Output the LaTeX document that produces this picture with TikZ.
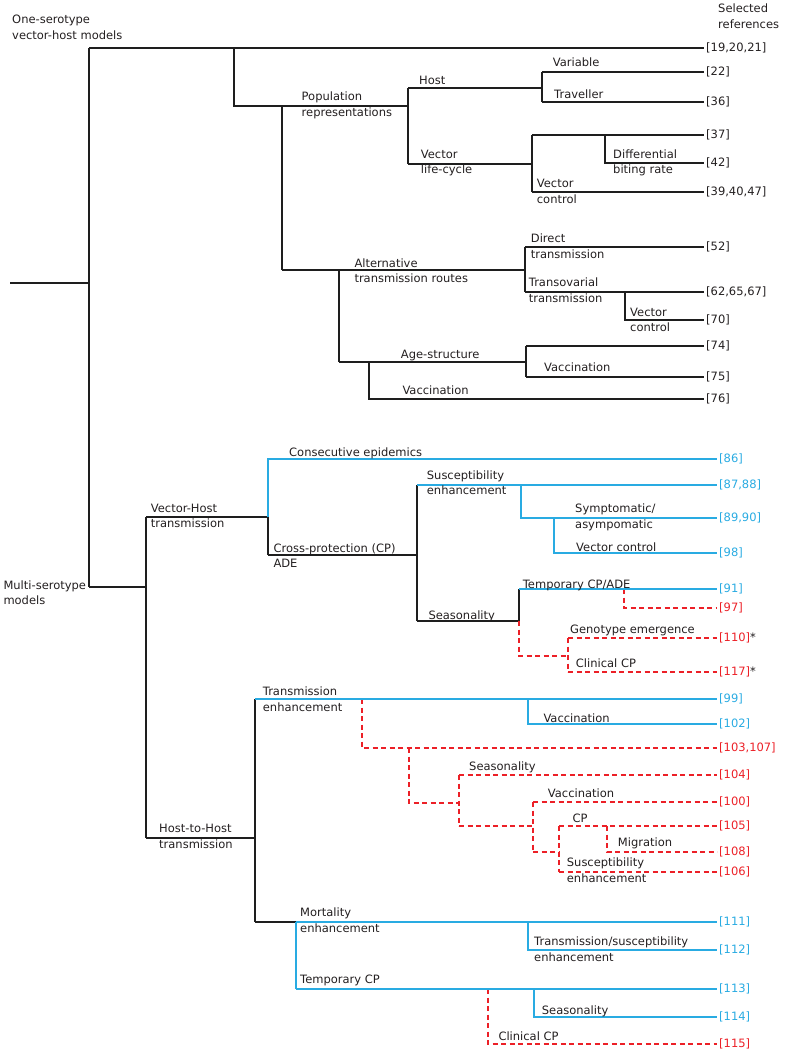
\documentclass[tikz,border=0pt]{standalone}
\usepackage{fontspec}
\setmainfont{DejaVu Sans}
\definecolor{cblue}{RGB}{41,171,226}
\definecolor{cred}{RGB}{236,32,39}
\definecolor{txt}{RGB}{35,31,32}
\definecolor{lblk}{RGB}{30,30,30}
\newcommand{\mytwo}[2]{\begin{tabular}[t]{@{}l@{}}#1\\#2\end{tabular}}
\begin{document}
\begin{tikzpicture}[x=1pt,y=-1pt,
  blk/.style={line width=1.1pt,draw=lblk},
  blu/.style={line width=1.2pt,draw=cblue},
  rd/.style={line width=1.2pt,draw=cred,dash pattern=on 5pt off 3.5pt},
  lbl/.style={anchor=base west,inner sep=0pt,text=txt,font=\fontsize{11.5}{15.5}\selectfont},
  refk/.style={anchor=west,inner sep=2pt,text=txt,font=\fontsize{11.5}{15.5}\selectfont},
  refb/.style={refk,text=cblue},
  refr/.style={refk,text=cred}]
\path[use as bounding box] (0,0) rectangle (786,1054);

% ---------- reference nodes ----------
\node[refk] (r19) at (704,48) {[19,20,21]};
\node[refk] (r22) at (704,72) {[22]};
\node[refk] (r36) at (704,102) {[36]};
\node[refk] (r37) at (704,135) {[37]};
\node[refk] (r42) at (704,163) {[42]};
\node[refk] (r39) at (704,192) {[39,40,47]};
\node[refk] (r52) at (704,247) {[52]};
\node[refk] (r62) at (704,292) {[62,65,67]};
\node[refk] (r70) at (704,320) {[70]};
\node[refk] (r74) at (704,346) {[74]};
\node[refk] (r75) at (704,377) {[75]};
\node[refk] (r76) at (704,399) {[76]};
\node[refb] (r86) at (717,459) {[86]};
\node[refb] (r87) at (717,485) {[87,88]};
\node[refb] (r89) at (717,518) {[89,90]};
\node[refb] (r98) at (717,553) {[98]};
\node[refb] (r91) at (717,589) {[91]};
\node[refr] (r97) at (717,608) {[97]};
\node[refr] (r110) at (717,638) {[110]\textcolor{txt}{*}};
\node[refr] (r117) at (717,672) {[117]\textcolor{txt}{*}};
\node[refb] (r99) at (717,699) {[99]};
\node[refb] (r102) at (717,724) {[102]};
\node[refr] (r103) at (717,748) {[103,107]};
\node[refr] (r104) at (717,775) {[104]};
\node[refr] (r100) at (717,802) {[100]};
\node[refr] (r105) at (717,826) {[105]};
\node[refr] (r108) at (717,852) {[108]};
\node[refr] (r106) at (717,872) {[106]};
\node[refb] (r111) at (717,922) {[111]};
\node[refb] (r112) at (717,950) {[112]};
\node[refb] (r113) at (717,989) {[113]};
\node[refb] (r114) at (717,1017) {[114]};
\node[refr] (r115) at (717,1044) {[115]};

% ---------- one-serotype tree ----------
\coordinate (root) at (10,283);
\coordinate (a0) at (89,48); \coordinate (a1) at (89,587);
\draw[blk] (a0) -- (a1);
\draw[blk] (root) -- (root -| a0);
\draw[blk] (a0) -- (r19.west);
\coordinate (p0) at (234,48); \coordinate (p1) at (234,106);
\coordinate (h0) at (408,88); \coordinate (h1) at (408,164);
\draw[blk] (p0) -- (p1) -- (p1 -| h0);
\draw[blk] (h0) -- (h1);
\coordinate (hv0) at (542,72); \coordinate (hv1) at (542,102);
\draw[blk] (h0) -- (h0 -| hv0);
\draw[blk] (hv0) -- (hv1);
\draw[blk] (hv0) -- (r22.west);
\draw[blk] (hv1) -- (r36.west);
\coordinate (v0) at (532,135); \coordinate (v1) at (532,192);
\draw[blk] (h1) -- (h1 -| v0);
\draw[blk] (v0) -- (v1);
\draw[blk] (v0) -- (r37.west);
\draw[blk] (v1) -- (r39.west);
\coordinate (d0) at (605,135);
\draw[blk] (d0) |- (r42.west);
\coordinate (al0) at (282,106); \coordinate (al1) at (282,270);
\draw[blk] (al0) -- (al1);
\coordinate (t0) at (525,247); \coordinate (t1) at (525,292);
\draw[blk] (al1) -- (al1 -| t0);
\draw[blk] (t0) -- (t1);
\draw[blk] (t0) -- (r52.west);
\draw[blk] (t1) -- (r62.west);
\coordinate (vc) at (625,292);
\draw[blk] (vc) |- (r70.west);
\coordinate (ag0) at (339,270); \coordinate (ag1) at (339,362);
\draw[blk] (ag0) -- (ag1);
\coordinate (g0) at (526,346); \coordinate (g1) at (526,377);
\draw[blk] (ag1) -- (ag1 -| g0);
\draw[blk] (g0) -- (g1);
\draw[blk] (g0) -- (r74.west);
\draw[blk] (g1) -- (r75.west);
\coordinate (vx) at (369,362);
\draw[blk] (vx) |- (r76.west);

% ---------- multi-serotype tree ----------
\coordinate (m0) at (146,517); \coordinate (m1) at (146,838);
\draw[blk] (a1) -- (a1 -| m0);
\draw[blk] (m0) -- (m1);
\coordinate (vh0) at (268,459); \coordinate (vh1) at (268,517); \coordinate (vh2) at (268,555);
\draw[blk] (m0) -- (vh1);
\draw[blu] (vh1) -- (vh0) -- (r86.west);
\draw[blk] (vh1) -- (vh2);
\coordinate (s0) at (417,485); \coordinate (s1) at (417,621);
\draw[blk] (vh2) -- (vh2 -| s0);
\draw[blk] (s0) -- (s1);
\draw[blu] (s0) -- (r87.west);
\coordinate (sy0) at (521,485); \coordinate (sy1) at (554,518);
\draw[blu] (sy0) |- (r89.west);
\draw[blu] (sy1) |- (r98.west);
\coordinate (se0) at (519,589); \coordinate (se1) at (519,621);
\draw[blk] (s1) -- (se1) -- (se0);
\draw[rd] (se1) |- (568,656);
\coordinate (ge0) at (568,638); \coordinate (ge1) at (568,672);
\draw[rd] (ge0) -- (ge1);
\draw[rd] (ge0) -- (r110.west);
\draw[rd] (ge1) -- (r117.west);
\coordinate (tc) at (624,589);
\draw[rd] (tc) |- (r97.west);
\draw[blu] (se0) -- (r91.west);

\coordinate (hh0) at (255,699); \coordinate (hh1) at (255,838); \coordinate (hh2) at (255,922);
\draw[blk] (m1) -- (hh1);
\draw[blk] (hh0) -- (hh2);
\coordinate (te) at (362,699);
\draw[rd] (te) |- (r103.west);
\coordinate (q0) at (409,748); \coordinate (q1) at (459,803);
\draw[rd] (q0) |- (q1);
\coordinate (w0) at (459,775); \coordinate (w1) at (459,826);
\draw[rd] (w0) -- (w1);
\draw[rd] (w0) -- (r104.west);
\coordinate (x0) at (533,802); \coordinate (x1) at (533,852);
\draw[rd] (w1) -- (w1 -| x0);
\draw[rd] (x0) -- (x1);
\draw[rd] (x0) -- (r100.west);
\coordinate (y0) at (559,826); \coordinate (y1) at (559,872);
\draw[rd] (x1) -- (x1 -| y0);
\draw[rd] (y0) -- (y1);
\draw[rd] (y0) -- (r105.west);
\draw[rd] (y1) -- (r106.west);
\coordinate (mg) at (607,826);
\draw[rd] (mg) |- (r108.west);
\draw[blu] (hh0) -- (r99.west);
\coordinate (tv) at (528,699);
\draw[blu] (tv) |- (r102.west);

\coordinate (mo0) at (296,922); \coordinate (mo1) at (296,989);
\draw[blk] (hh2) -- (mo0);
\coordinate (cc) at (488,989);
\draw[rd] (cc) |- (r115.west);
\draw[blu] (mo0) -- (mo1);
\draw[blu] (mo0) -- (r111.west);
\draw[blu] (mo1) -- (r113.west);
\coordinate (ts) at (528,922);
\draw[blu] (ts) |- (r112.west);
\coordinate (ss) at (534,989);
\draw[blu] (ss) |- (r114.west);

% ---------- labels ----------
\node[lbl] (lone) at (12,24) {\mytwo{One-serotype}{vector-host models}};
\node[lbl] (lsel) at (718,13) {\mytwo{Selected}{references}};
\node[lbl] (lpop) at (301.5,100.7) {\mytwo{Population}{representations}};
\node[lbl] (lhost) at (419,85) {Host};
\node[lbl] (lvar) at (552.7,66.7) {Variable};
\node[lbl] (ltrav) at (554,98.3) {Traveller};
\node[lbl] (lvlc) at (420.7,158.3) {\mytwo{Vector}{life-cycle}};
\node[lbl] (ldiff) at (613,158.3) {\mytwo{Differential}{biting rate}};
\node[lbl] (lvc1) at (536.7,187.7) {\mytwo{Vector}{control}};
\node[lbl] (ldir) at (530.7,242.7) {\mytwo{Direct}{transmission}};
\node[lbl] (lalt) at (354.3,267.3) {\mytwo{Alternative}{transmission routes}};
\node[lbl] (ltrans) at (528.7,286.7) {\mytwo{Transovarial}{transmission}};
\node[lbl] (lvc2) at (630,316) {\mytwo{Vector}{control}};
\node[lbl] (lage) at (400.7,358.3) {Age-structure};
\node[lbl] (lvac1) at (544,371.7) {Vaccination};
\node[lbl] (lvac2) at (402.3,394.3) {Vaccination};
\node[lbl] (lmulti) at (3.3,589) {\mytwo{Multi-serotype}{models}};
\node[lbl] (lcons) at (289,456) {Consecutive epidemics};
\node[lbl] (lvh) at (150.7,512.3) {\mytwo{Vector-Host}{transmission}};
\node[lbl] (lsus1) at (426.7,479) {\mytwo{Susceptibility}{enhancement}};
\node[lbl] (lcp) at (273.3,552) {\mytwo{Cross-protection (CP)}{ADE}};
\node[lbl] (lsea1) at (428.3,619) {Seasonality};
\node[lbl] (lsym) at (575,512.7) {\mytwo{Symptomatic/}{asympomatic}};
\node[lbl] (lvc3) at (576,551) {Vector control};
\node[lbl] (ltcp1) at (522.7,588) {Temporary CP/ADE};
\node[lbl] (lgen) at (570,633.3) {Genotype emergence};
\node[lbl] (lclin1) at (575.7,667.3) {Clinical CP};
\node[lbl] (lhh) at (159,832.7) {\mytwo{Host-to-Host}{transmission}};
\node[lbl] (lten) at (262.7,695.7) {\mytwo{Transmission}{enhancement}};
\node[lbl] (lvac3) at (543.3,722.7) {Vaccination};
\node[lbl] (lsea2) at (469,770.7) {Seasonality};
\node[lbl] (lvac4) at (547.7,797.3) {Vaccination};
\node[lbl] (lcp2) at (572.3,822.7) {CP};
\node[lbl] (lmig) at (617.7,846.7) {Migration};
\node[lbl] (lsus2) at (566.7,866.7) {\mytwo{Susceptibility}{enhancement}};
\node[lbl] (lmor) at (300,916.7) {\mytwo{Mortality}{enhancement}};
\node[lbl] (ltsus) at (534,945.7) {\mytwo{Transmission/susceptibility}{enhancement}};
\node[lbl] (ltcp2) at (300,983.3) {Temporary CP};
\node[lbl] (lsea3) at (541.7,1014) {Seasonality};
\node[lbl] (lclin2) at (498.3,1040) {Clinical CP};
\end{tikzpicture}
\end{document}
